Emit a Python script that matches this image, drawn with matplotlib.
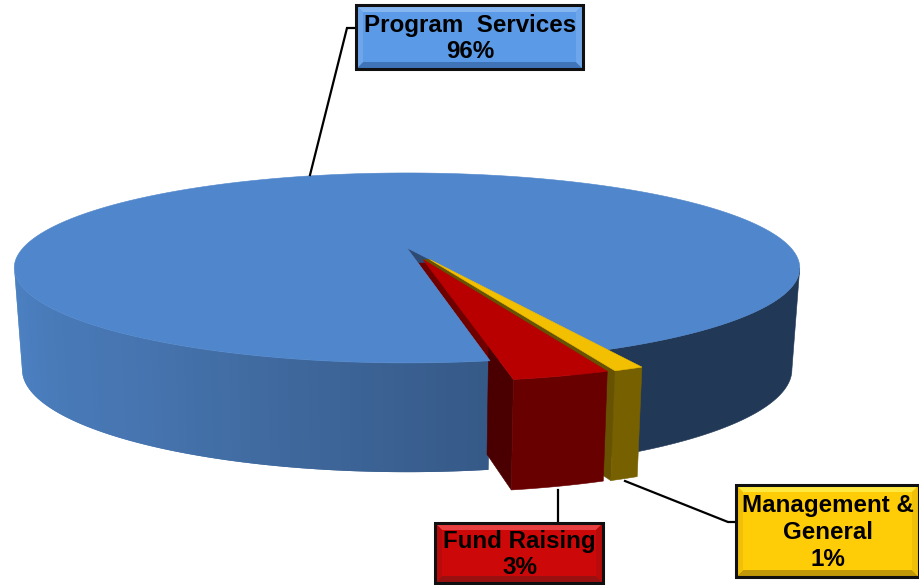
import numpy as np
import matplotlib
matplotlib.use("Agg")
import matplotlib.pyplot as plt
from matplotlib.colors import LinearSegmentedColormap
from matplotlib.patches import Polygon, Rectangle

plt.rcParams['font.family'] = ['Liberation Sans', 'DejaVu Sans']

# ---- data ----
categories = ["Program  Services", "Fund Raising", "Management &\nGeneral"]
values = [95.8, 3.2, 1.0]          # shares (labels round them)

# ---- styles ----
top_colors = ["#5086CB", "#B80000", "#F2C000"]
wall_colors = ["#213857", "#680000", "#776000"]
cut_colors = ["#2C4A72", "#4A0000", "#665200"]
box_colors = ["#5B9AE6", "#CC0808", "#FFCC08"]
box_light = ["#86B6F0", "#E84040", "#FFE840"]
box_side = ["#6FA6EA", "#B80A0A", "#F0C008"]
box_dark = ["#3F74B8", "#981010", "#C09808"]
boxes = [(356, 5, 227, 64), (435, 523, 168, 60), (736, 485, 183, 92)]
leaders = [[(310, 175), (347, 28), (356, 28)],
           [(558, 490), (558, 523)],
           [(625, 481), (728, 522), (736, 522)]]
offsets = [(0, 0), (0.041, -0.125), (0.057, -0.122)]
START = -65.0
CX, CY, B, A, K = 407, 248, 384, 90.8, 0.21
SIL = np.degrees(np.arcsin(K))     # silhouette of the projected disc

fig = plt.figure(figsize=(9.2, 5.85), dpi=100)
ax = fig.add_axes([0, 0, 1, 1])
ax.set_xlim(0, 920)
ax.set_ylim(585, 0)
ax.axis('off')


def top(u, v):
    d = 1 + K * v
    return CX + B * u / d, CY - A * v / d


def bottom(u, v):
    x, y = top(u, v)
    return CX + (x - CX) * 0.98, y + 100 + 0.08 * (y - CY)


def arc(t0, t1, off=(0, 0), n=60):
    th = np.radians(np.linspace(t0, t1, n))
    return np.cos(th) + off[0], np.sin(th) + off[1]


def poly(pts, color, z, lw=0.4):
    ax.add_patch(Polygon(np.column_stack(pts), closed=True, facecolor=color,
                         edgecolor=color if lw else "none", linewidth=lw, zorder=z))


spans = 360 * np.array(values) / sum(values)
yellow = (START - spans[2], START)
red = (yellow[0] - spans[1], yellow[0])
blue_end = red[0] + 360

# blue outer wall, left part with a gradient, right part dark
cm = LinearSegmentedColormap.from_list("w", ["#4C82C4", "#4674AF", "#365A88"])
edges = np.linspace(-180 + SIL, red[0], 70)
for i in range(len(edges) - 1):
    j = min(i + 2, len(edges) - 1)
    u, v = arc(edges[i], edges[j], n=5)
    tx, ty = top(u, v)
    bx, by = bottom(u, v)
    poly((np.r_[tx, bx[::-1]], np.r_[ty, by[::-1]]), cm(i / 68), 1 + i * 1e-4, lw=0)
u, v = arc(START - 5, -SIL, n=80)
tx, ty = top(u, v)
bx, by = bottom(u, v)
poly((np.r_[tx, bx[::-1]], np.r_[ty, by[::-1]]), wall_colors[0], 1)

# blue top with its notch: navy near the centre, dark red along the slice
u, v = arc(START, blue_end, n=300)
tx, ty = top(u, v)
poly((np.r_[CX, tx], np.r_[CY, ty]), top_colors[0], 2)
u, v = arc(red[0], START, n=20)
tx, ty = top(u, v)
poly((np.r_[CX, tx], np.r_[CY, ty]), "#6E0000", 1.8)
tx, ty = top(u * 0.16, v * 0.16)
poly((np.r_[CX, tx], np.r_[CY, ty]), cut_colors[0], 1.85)


def slice3d(span, off, idx, z, cut_edge, t0):
    ox, oy = off
    c = np.cos(np.radians(cut_edge))
    s = np.sin(np.radians(cut_edge))
    tt = np.array([t0, 1.0])
    wu, wv = tt * c + ox, tt * s + oy
    tx, ty = top(wu, wv)
    bx, by = bottom(wu, wv)
    poly((np.r_[tx, bx[::-1]], np.r_[ty, by[::-1]]), cut_colors[idx], z[0])
    u, v = arc(span[0], span[1], off, n=30)
    tx, ty = top(u, v)
    bx, by = bottom(u, v)
    poly((np.r_[tx, bx[::-1]], np.r_[ty, by[::-1]]), wall_colors[idx], z[1])
    ax_, ay_ = top(np.array([ox]), np.array([oy]))
    poly((np.r_[ax_, tx], np.r_[ay_, ty]), top_colors[idx], z[1] + 0.1)


slice3d(yellow, offsets[2], 2, (3, 3), yellow[0], 0.92)
slice3d(red, offsets[1], 1, (1.9, 4), red[0], 0.77)

# olive gap between the yellow and the red top faces
c, s = np.cos(np.radians(yellow[0])), np.sin(np.radians(yellow[0]))
ya = top(np.array([0.0, 1.0]) * c + offsets[2][0], np.array([0.0, 1.0]) * s + offsets[2][1])
ra = top(np.array([1.0, 0.0]) * c + offsets[1][0], np.array([1.0, 0.0]) * s + offsets[1][1])
poly((np.r_[ya[0], ra[0]], np.r_[ya[1], ra[1]]), cut_colors[2], 3.05)

# leader lines
for pts in leaders:
    xs, ys = zip(*pts)
    ax.plot(xs, ys, color="black", lw=1.6, zorder=5, solid_joinstyle='miter')

# bevelled label boxes
for i, (x, y, w, h) in enumerate(boxes):
    b = 7
    ax.add_patch(Rectangle((x, y), w, h, facecolor=box_colors[i], edgecolor="none", zorder=6))
    ax.add_patch(Polygon([(x, y), (x + w, y), (x + w - b, y + b), (x + b, y + b)],
                         facecolor=box_light[i], edgecolor="none", zorder=6.1))
    ax.add_patch(Polygon([(x, y + h), (x + w, y + h), (x + w - b, y + h - b), (x + b, y + h - b)],
                         facecolor=box_dark[i], edgecolor="none", zorder=6.1))
    ax.add_patch(Polygon([(x, y), (x + b, y + b), (x + b, y + h - b), (x, y + h)],
                         facecolor=box_side[i], edgecolor="none", zorder=6.1))
    ax.add_patch(Polygon([(x + w, y), (x + w - b, y + b), (x + w - b, y + h - b), (x + w, y + h)],
                         facecolor=box_side[i], edgecolor="none", zorder=6.1))
    ax.add_patch(Rectangle((x, y), w, h, facecolor="none", edgecolor="#101010", lw=2.2, zorder=6.2))
    ax.text(x + w / 2 + 0.5, y + h / 2 + 1.5, f"{categories[i]}\n{round(values[i])}%", ha='center', va='center',
            fontsize=17.4, fontweight='bold', color="black", linespacing=1.22, zorder=7)

fig.savefig("out.png", dpi=100)
